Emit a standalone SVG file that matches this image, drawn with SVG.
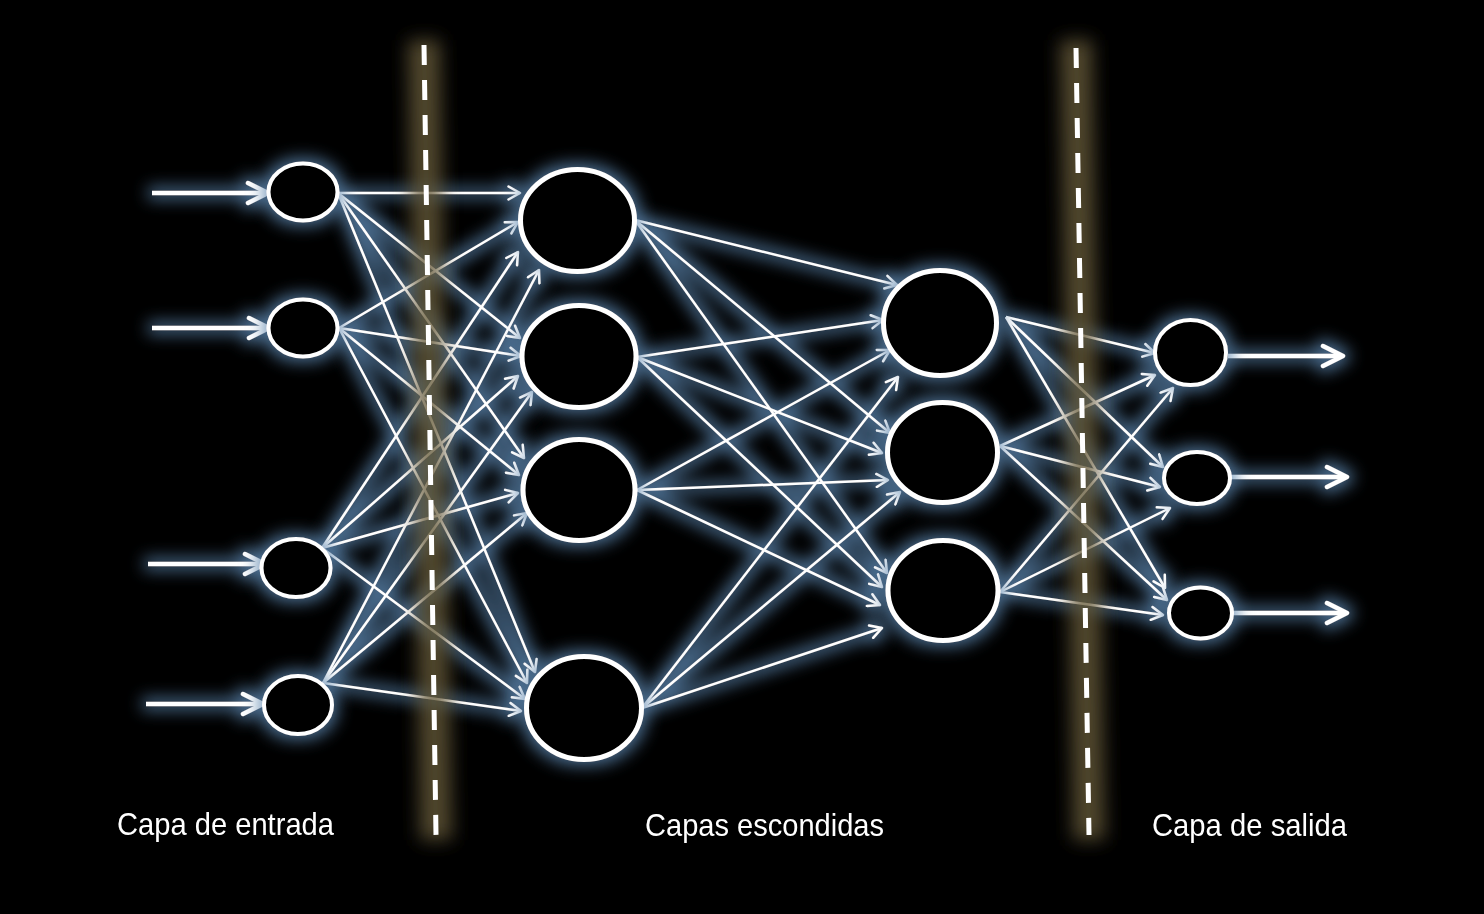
<svg xmlns="http://www.w3.org/2000/svg" width="1484" height="914" viewBox="0 0 1484 914">
<defs>
<style>
.node{fill:#000;stroke:#fff}
.sm{stroke-width:4}
.lg{stroke-width:5}
.con line{stroke:#fff;stroke-width:2.5;marker-end:url(#ah)}
.io line{stroke:#fff;stroke-width:4.5;marker-end:url(#ahb)}
.lbl{font-family:"Liberation Sans",Arial,sans-serif;font-size:32px;fill:#fff}
.dash{stroke:#fff;stroke-width:5;stroke-dasharray:20 15}
.dglow{stroke:#64583a;stroke-width:32;opacity:0.8}
</style>
<marker id="ah" markerUnits="userSpaceOnUse" viewBox="0 0 16 16" refX="14" refY="8" markerWidth="16" markerHeight="16" orient="auto">
<path d="M2.5,1.5 L14,8 L2.5,14.5" fill="none" stroke="#fff" stroke-width="2.5" stroke-linecap="round" stroke-linejoin="round"/>
</marker>
<marker id="ahb" markerUnits="userSpaceOnUse" viewBox="0 0 26 26" refX="22" refY="13" markerWidth="26" markerHeight="26" orient="auto">
<path d="M3,3 L23,13 L3,23" fill="none" stroke="#fff" stroke-width="4.5" stroke-linecap="round" stroke-linejoin="round"/>
</marker>
<filter id="glow" filterUnits="userSpaceOnUse" x="0" y="0" width="1484" height="914">
<feMorphology in="SourceAlpha" operator="dilate" radius="4" result="d"/>
<feGaussianBlur in="d" stdDeviation="8" result="b"/>
<feFlood flood-color="#5a84ad" flood-opacity="0.8"/>
<feComposite in2="b" operator="in" result="g"/>
<feMerge><feMergeNode in="g"/><feMergeNode in="SourceGraphic"/></feMerge>
</filter>
<filter id="dblur" filterUnits="userSpaceOnUse" x="0" y="0" width="1484" height="914">
<feGaussianBlur stdDeviation="9"/>
</filter>
</defs>
<rect width="1484" height="914" fill="#000"/>

<g id="connectors" filter="url(#glow)">
<g class="io">
<line x1="152" y1="193" x2="267" y2="193"/>
<line x1="152" y1="328" x2="268" y2="328"/>
<line x1="148" y1="564" x2="264" y2="564"/>
<line x1="146" y1="704" x2="262" y2="704"/>
<line x1="1228" y1="356" x2="1342" y2="356"/>
<line x1="1231" y1="477" x2="1346" y2="477"/>
<line x1="1233" y1="613" x2="1346" y2="613"/>
</g>
<g class="con">
<line x1="338" y1="193" x2="520" y2="193"/>
<line x1="339" y1="328" x2="518" y2="222"/>
<line x1="322" y1="548" x2="518" y2="252"/>
<line x1="323" y1="683" x2="539" y2="270"/>
<line x1="338" y1="193" x2="520" y2="338"/>
<line x1="339" y1="328" x2="521" y2="356"/>
<line x1="322" y1="548" x2="518" y2="376"/>
<line x1="323" y1="683" x2="532" y2="392"/>
<line x1="338" y1="193" x2="524" y2="458"/>
<line x1="339" y1="328" x2="519" y2="475"/>
<line x1="322" y1="548" x2="518" y2="493"/>
<line x1="323" y1="683" x2="527" y2="513"/>
<line x1="338" y1="193" x2="535" y2="672"/>
<line x1="339" y1="328" x2="527" y2="683"/>
<line x1="322" y1="548" x2="525" y2="699"/>
<line x1="323" y1="683" x2="521" y2="711"/>

<line x1="635" y1="220" x2="897" y2="285"/>
<line x1="637" y1="357" x2="883" y2="320"/>
<line x1="637" y1="490" x2="890" y2="350"/>
<line x1="642" y1="708" x2="898" y2="377"/>
<line x1="635" y1="220" x2="890" y2="433"/>
<line x1="637" y1="357" x2="882" y2="453"/>
<line x1="637" y1="490" x2="888" y2="480"/>
<line x1="642" y1="708" x2="900" y2="492"/>
<line x1="635" y1="220" x2="887" y2="573"/>
<line x1="637" y1="357" x2="882" y2="587"/>
<line x1="637" y1="490" x2="880" y2="605"/>
<line x1="642" y1="708" x2="882" y2="628"/>

<line x1="1006" y1="317" x2="1155" y2="353"/>
<line x1="1000" y1="446" x2="1155" y2="375"/>
<line x1="1000" y1="592" x2="1173" y2="388"/>
<line x1="1006" y1="317" x2="1163" y2="467"/>
<line x1="1000" y1="446" x2="1160" y2="487"/>
<line x1="1000" y1="592" x2="1170" y2="508"/>
<line x1="1006" y1="317" x2="1165" y2="588"/>
<line x1="1000" y1="446" x2="1167" y2="600"/>
<line x1="1000" y1="592" x2="1163" y2="615"/>
</g>
</g>

<g id="nodes" filter="url(#glow)">
<g id="in1"><ellipse class="node sm" cx="303" cy="192" rx="34.5" ry="28.5"/></g>
<g id="in2"><ellipse class="node sm" cx="303" cy="328" rx="34.5" ry="28.5"/></g>
<g id="in3"><ellipse class="node sm" cx="296" cy="568" rx="34.5" ry="29"/></g>
<g id="in4"><ellipse class="node sm" cx="298" cy="705" rx="34" ry="29"/></g>
<g id="h1a"><ellipse class="node lg" cx="577.5" cy="220.5" rx="57" ry="51"/></g>
<g id="h1b"><ellipse class="node lg" cx="579" cy="356.5" rx="57" ry="51"/></g>
<g id="h1c"><ellipse class="node lg" cx="579" cy="490" rx="56" ry="50.5"/></g>
<g id="h1d"><ellipse class="node lg" cx="584" cy="708" rx="57.5" ry="51.5"/></g>
<g id="h2a"><ellipse class="node lg" cx="940" cy="323" rx="56.5" ry="52.5"/></g>
<g id="h2b"><ellipse class="node lg" cx="942.5" cy="452.5" rx="55" ry="50"/></g>
<g id="h2c"><ellipse class="node lg" cx="943" cy="590.5" rx="55" ry="50"/></g>
<g id="o1"><ellipse class="node sm" cx="1190.5" cy="352.5" rx="35.5" ry="32.5"/></g>
<g id="o2"><ellipse class="node sm" cx="1197" cy="478" rx="33" ry="26"/></g>
<g id="o3"><ellipse class="node sm" cx="1200.5" cy="613" rx="31.5" ry="25.5"/></g>
</g>

<g id="dividers">
<g filter="url(#dblur)">
<line class="dglow" x1="424" y1="40" x2="436" y2="840"/>
<line class="dglow" x1="1076" y1="40" x2="1089" y2="840"/>
</g>
<line class="dash" x1="424" y1="45" x2="436" y2="835"/>
<line class="dash" x1="1076" y1="48" x2="1089" y2="835"/>
</g>

<g id="labels">
<text class="lbl" x="117" y="835" textLength="217" lengthAdjust="spacingAndGlyphs">Capa de entrada</text>
<text class="lbl" x="645" y="836" textLength="239" lengthAdjust="spacingAndGlyphs">Capas escondidas</text>
<text class="lbl" x="1152" y="836" textLength="195" lengthAdjust="spacingAndGlyphs">Capa de salida</text>
</g>
</svg>
